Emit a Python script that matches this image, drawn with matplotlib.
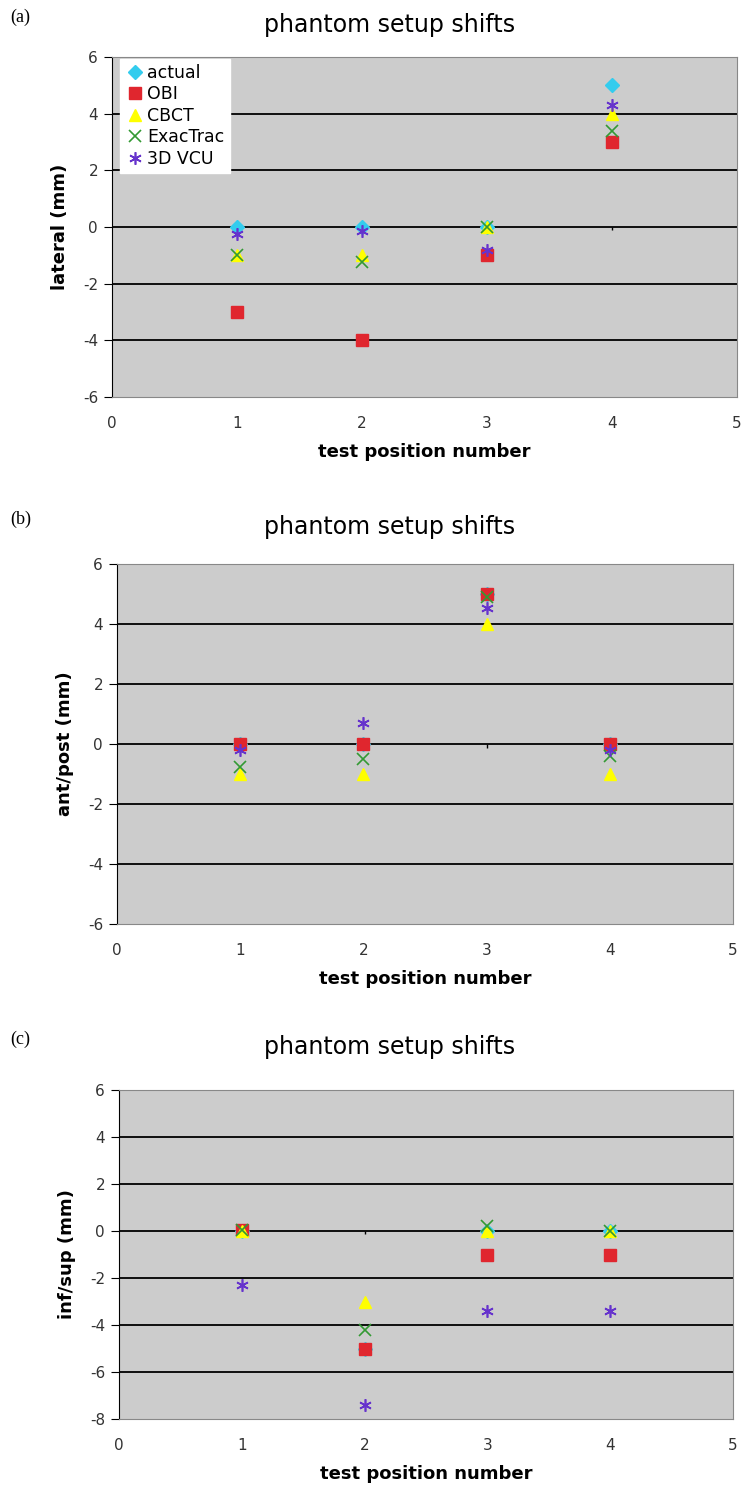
import matplotlib.pyplot as plt
import numpy as np

plt.rcParams["axes.unicode_minus"] = False

# test positions
pos = [1, 2, 3, 4]

# (a) lateral shifts (mm)
lat_actual = [0, 0, 0, 5]
lat_obi = [-3, -4, -1, 3]
lat_cbct = [-1, -1, 0, 4]
lat_exac = [-1, -1.25, 0, 3.4]
lat_vcu = [-0.25, -0.15, -0.8, 4.3]

# (b) ant/post shifts (mm)
ap_actual = [0, 0, 5, 0]
ap_obi = [0, 0, 5, 0]
ap_cbct = [-1, -1, 4, -1]
ap_exac = [-0.75, -0.5, 4.9, -0.4]
ap_vcu = [-0.2, 0.7, 4.55, -0.2]

# (c) inf/sup shifts (mm)
is_actual = [0, -5, 0, 0]
is_obi = [0.05, -5, -1, -1]
is_cbct = [0, -3, 0, 0]
is_exac = [0.05, -4.2, 0.2, 0]
is_vcu = [-2.3, -7.4, -3.4, -3.4]

labels = ["actual", "OBI", "CBCT", "ExacTrac", "3D VCU"]
colors = ["#33CCEE", "#E0262E", "#FFFF00", "#339933", "#6633CC"]
markers = ["D", "s", "^", "x", (6, 2, 0)]
msizes = [7, 8, 8, 8, 9]

panels = [
    ("(a)", "lateral (mm)", [lat_actual, lat_obi, lat_cbct, lat_exac, lat_vcu], (-6, 6),
     [112 / 744, 1 - 397 / 1490, 625 / 744, 340 / 1490], 25),
    ("(b)", "ant/post (mm)", [ap_actual, ap_obi, ap_cbct, ap_exac, ap_vcu], (-6, 6),
     [117 / 744, 1 - 924 / 1490, 616 / 744, 360 / 1490], 527),
    ("(c)", "inf/sup (mm)", [is_actual, is_obi, is_cbct, is_exac, is_vcu], (-8, 6),
     [119 / 744, 1 - 1419 / 1490, 614 / 744, 329 / 1490], 1047),
]

fig = plt.figure(figsize=(7.44, 14.9), dpi=100)

for tag, ylab, series, ylim, rect, ty in panels:
    ax = fig.add_axes(rect)
    ax.set_facecolor("#CCCCCC")
    ax.set_xlim(0, 5)
    ax.set_ylim(*ylim)
    yt = np.arange(ylim[0], ylim[1] + 1, 2)
    ax.set_yticks(yt)
    ax.set_xticks(range(6))
    for y in yt[1:-1]:
        ax.axhline(y, color="black", lw=1.3, zorder=1)
    # small tick marks on the y=0 axis line
    ax.vlines(range(1, 5), -0.12 * (ylim[1] - ylim[0]) / 12, 0, color="black", lw=1, zorder=1)

    for vals, lab, c, m, ms in zip(series, labels, colors, markers, msizes):
        if m == "x" or isinstance(m, tuple):
            ax.plot(pos, vals, ls="none", marker=m, color=c, ms=ms, mew=1.2,
                    label=lab, zorder=3)
        else:
            ax.plot(pos, vals, ls="none", marker=m, color=c, ms=ms, mec=c,
                    label=lab, zorder=3)

    for s in ["top", "right", "bottom"]:
        ax.spines[s].set_color("#888888")
    ax.spines["left"].set_color("black")
    ax.tick_params(axis="y", direction="out", length=6, labelsize=11,
                   labelcolor="#333333", pad=4)
    ax.tick_params(axis="x", length=0, labelsize=11, labelcolor="#333333", pad=14)
    ax.set_ylabel(ylab, fontsize=13, fontweight="bold", labelpad=10)
    ax.set_xlabel("test position number", fontsize=13, fontweight="bold", labelpad=8)

    fig.text(390 / 744, 1 - ty / 1490, "phantom setup shifts", ha="center",
             va="center", fontsize=17)
    fig.text(10 / 744, 1 - (ty - 8) / 1490, tag, ha="left", va="center",
             fontsize=13, family="Liberation Serif")

    if tag == "(a)":
        leg = ax.legend(loc="upper left", bbox_to_anchor=(0.012, 0.995), fontsize=12.5,
                        frameon=True, fancybox=False, handletextpad=0.1,
                        handlelength=1.2, borderpad=0.3, labelspacing=0.2,
                        borderaxespad=0)
        leg.get_frame().set_facecolor("white")
        leg.get_frame().set_edgecolor("white")
        leg.get_frame().set_alpha(1)

fig.savefig("out.png", dpi=100)
